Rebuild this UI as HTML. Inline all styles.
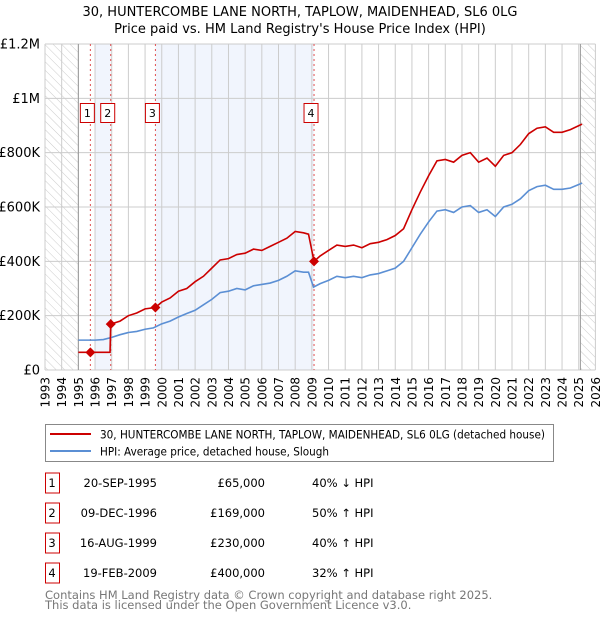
<!DOCTYPE html>
<html><head><meta charset="utf-8">
<style>
body{margin:0;background:#fff;font-family:"DejaVu Sans","Liberation Sans",sans-serif;}
svg text{font-family:"DejaVu Sans","Liberation Sans",sans-serif;}
</style></head>
<body>
<svg id="chart" width="600" height="620" xmlns="http://www.w3.org/2000/svg">
<defs>
<pattern id="hatch" width="6" height="6" patternUnits="userSpaceOnUse" patternTransform="rotate(-45)">
<line x1="0" y1="0" x2="0" y2="6" stroke="#ccc" stroke-width="1"/>
</pattern>
</defs>
<text x="300" y="16" text-anchor="middle" font-size="13">30, HUNTERCOMBE LANE NORTH, TAPLOW, MAIDENHEAD, SL6 0LG</text>
<text x="300" y="33" text-anchor="middle" font-size="13">Price paid vs. HM Land Registry's House Price Index (HPI)</text>
<g id="plot"></g>
<g>
<rect x="45.5" y="424.5" width="508" height="37" fill="#fff" stroke="#888"/>
<line x1="50" y1="434" x2="91" y2="434" stroke="#cc0000" stroke-width="2"/>
<text x="100" y="438.5" font-size="11.5" textLength="445" lengthAdjust="spacingAndGlyphs">30, HUNTERCOMBE LANE NORTH, TAPLOW, MAIDENHEAD, SL6 0LG (detached house)</text>
<line x1="50" y1="451" x2="91" y2="451" stroke="#5b8fd4" stroke-width="2"/>
<text x="100" y="455.5" font-size="11.5" textLength="229" lengthAdjust="spacingAndGlyphs">HPI: Average price, detached house, Slough</text>
</g>
<g id="table"></g>
<text x="45" y="599" font-size="11.5" fill="#777">Contains HM Land Registry data © Crown copyright and database right 2025.</text>
<text x="45" y="609" font-size="11.5" fill="#777">This data is licensed under the Open Government Licence v3.0.</text>
</svg>
<script>
const hpiT=[1995.0,1995.5,1996.0,1996.5,1997.0,1997.5,1998.0,1998.5,1999.0,1999.5,2000.0,2000.5,2001.0,2001.5,2002.0,2002.5,2003.0,2003.5,2004.0,2004.5,2005.0,2005.5,2006.0,2006.5,2007.0,2007.5,2008.0,2008.5,2008.8,2009.1,2009.5,2010.0,2010.5,2011.0,2011.5,2012.0,2012.5,2013.0,2013.5,2014.0,2014.5,2015.0,2015.5,2016.0,2016.5,2017.0,2017.5,2018.0,2018.5,2019.0,2019.5,2020.0,2020.5,2021.0,2021.5,2022.0,2022.5,2023.0,2023.5,2024.0,2024.5,2025.2];
const hpiV=[110,110,110,112,120,130,138,142,150,155,170,180,195,208,220,240,260,285,290,300,295,310,315,320,330,345,365,360,360,305,318,330,345,340,345,340,350,355,365,375,400,450,500,545,585,590,580,600,605,580,590,565,600,610,630,660,675,680,665,665,670,688];
const propT=[1995.0,1996.9,1996.94,1997.5,1998.0,1998.5,1999.0,1999.62,2000.0,2000.5,2001.0,2001.5,2002.0,2002.5,2003.0,2003.5,2004.0,2004.5,2005.0,2005.5,2006.0,2006.5,2007.0,2007.5,2008.0,2008.5,2008.8,2009.13,2009.5,2010.0,2010.5,2011.0,2011.5,2012.0,2012.5,2013.0,2013.5,2014.0,2014.5,2015.0,2015.5,2016.0,2016.5,2017.0,2017.5,2018.0,2018.5,2019.0,2019.5,2020.0,2020.5,2021.0,2021.5,2022.0,2022.5,2023.0,2023.5,2024.0,2024.5,2025.2];
const propV=[65,65,169,180,200,210,225,230,250,265,290,300,325,345,375,405,410,425,430,445,440,455,470,485,510,505,500,400,420,440,460,455,460,450,465,470,480,495,520,590,655,715,770,775,765,790,800,765,780,750,790,800,830,870,890,895,875,875,885,905];
const saleT=[1995.72,1996.94,1999.62,2009.13];
const saleV=[65,169,230,400];
const saleLabels=["1","2","3","4"];
const saleDates=["20-SEP-1995","09-DEC-1996","16-AUG-1999","19-FEB-2009"];
const salePrices=["£65,000","£169,000","£230,000","£400,000"];
const saleHpi=["40% ↓ HPI","50% ↑ HPI","40% ↑ HPI","32% ↑ HPI"];
const yTicks=[0,200,400,600,800,1000,1200];
const yTickLabels=["£0","£200K","£400K","£600K","£800K","£1M","£1.2M"];
const xYears=[];for(let y=1993;y<=2026;y++)xYears.push(y);

const NS="http://www.w3.org/2000/svg";
const X0=45,X1=595.4,Y0=370,Y1=44;
const xs=t=>X0+(t-1993)/(2026-1993)*(X1-X0);
const ys=v=>Y0-v/1200*(Y0-Y1);
const plot=document.getElementById('plot');
function mk(tag,attrs,parent){const e=document.createElementNS(NS,tag);for(const k in attrs)e.setAttribute(k,attrs[k]);(parent||plot).appendChild(e);return e;}

let r=mk('rect',{x:xs(1996),y:Y1,width:xs(saleT[1])-xs(1996),height:Y0-Y1,fill:'#eef3fc',opacity:0.8});


r=mk('rect',{x:xs(saleT[2]),y:Y1,width:xs(saleT[3])-xs(saleT[2]),height:Y0-Y1,fill:'#eef3fc',opacity:0.8});


r=mk('rect',{x:X0,y:Y1,width:xs(1995)-X0,height:Y0-Y1,fill:'url(#hatch)'});


r=mk('rect',{x:xs(2025.1),y:Y1,width:X1-xs(2025.1),height:Y0-Y1,fill:'url(#hatch)'});


xYears.forEach(y=>{
 const l=mk('line',{x1:xs(y),x2:xs(y),y1:Y1,y2:Y0,stroke:'#ccc','stroke-width':1});
 
 
 const tx=mk('text',{x:0,y:0,'font-size':12,'text-anchor':'end',transform:`translate(${xs(y)+4.5},377) rotate(-90)`});
 tx.textContent=y;
 
 
});
yTicks.forEach((v,i)=>{
 const l=mk('line',{x1:X0,x2:X1,y1:ys(v),y2:ys(v),stroke:'#ccc','stroke-width':1});
 
 
 const tx=mk('text',{x:40,y:ys(v)+4.5,'font-size':13,'text-anchor':'end'});
 tx.textContent=yTickLabels[i];
 
 
});
mk('line',{x1:xs(1995),x2:xs(1995),y1:Y1,y2:Y0,stroke:'#999'});
mk('line',{x1:xs(2025.1),x2:xs(2025.1),y1:Y1,y2:Y0,stroke:'#999'});
saleT.forEach(t=>{
 const l=mk('line',{x1:xs(t),x2:xs(t),y1:Y1,y2:Y0,stroke:'#e05050','stroke-width':1,'stroke-dasharray':'2,3'});
 
 
});
let p=mk('polyline',{points:hpiT.map((t,i)=>xs(t)+','+ys(hpiV[i])).join(' '),fill:'none',stroke:'#5b8fd4','stroke-width':1.6});


p=mk('polyline',{points:propT.map((t,i)=>xs(t)+','+ys(propV[i])).join(' '),fill:'none',stroke:'#cc0000','stroke-width':1.6});


saleT.forEach((t,i)=>{
 const cx=xs(t),cy=ys(saleV[i]);
 const d=mk('polygon',{points:`${cx},${cy-5} ${cx+5},${cy} ${cx},${cy+5} ${cx-5},${cy}`,fill:'#cc0000'});
 
 
 const b=mk('rect',{x:cx-10,y:103.5,width:14,height:19,fill:'#fff',stroke:'#cc0000'});
 
 
 const tx=mk('text',{x:cx-3,y:117,'font-size':11,'text-anchor':'middle'});
 tx.textContent=saleLabels[i];
 
 
});
const tbl=document.getElementById('table');
saleLabels.forEach((s,i)=>{
 const cy=483+30*i;
 const b=mk('rect',{x:45.5,y:cy-10,width:14,height:20,fill:'#fff',stroke:'#cc0000'},tbl);
 
 
 const cells=[[s,52,'middle'],[saleDates[i],157,'end'],[salePrices[i],265,'end'],[saleHpi[i],312,'start']];
 cells.forEach(c=>{
  const tx=mk('text',{x:c[1],y:cy+4,'font-size':11.5,'text-anchor':c[2]},tbl);
  tx.textContent=c[0];
  
  
 });
});
</script>
</body></html>
